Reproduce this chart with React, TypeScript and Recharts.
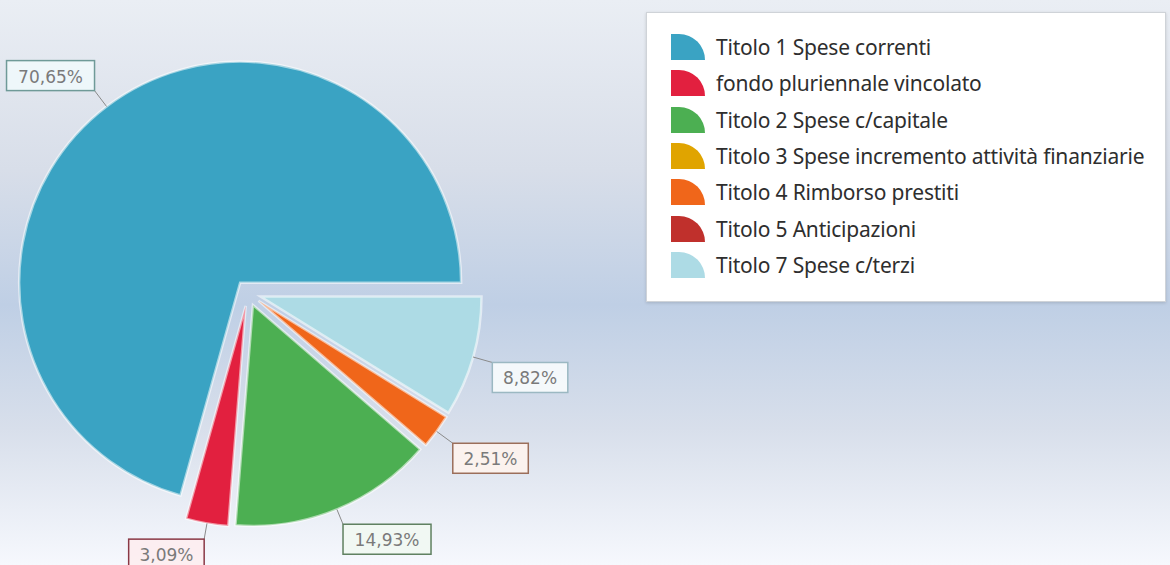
import { PieChart, Pie, Cell } from 'recharts';

const names = [
  'Titolo 1 Spese correnti',
  'fondo pluriennale vincolato',
  'Titolo 2 Spese c/capitale',
  'Titolo 3 Spese incremento attività finanziarie',
  'Titolo 4 Rimborso prestiti',
  'Titolo 5 Anticipazioni',
  'Titolo 7 Spese c/terzi',
];
const values = [70.65, 3.09, 14.93, 0, 2.51, 0, 8.82];
const colors = ['#3aa3c3', '#e2203f', '#4caf52', '#e0a400', '#f0661a', '#c0302c', '#addbe5'];
const labelBorders = ['#6f9a98', '#8a3845', '#5f8060', '#a08030', '#9b6e5a', '#803030', '#9bb8c2'];

const data = names.map((name, i) => ({ name, value: values[i] }));

const RADIAN = Math.PI / 180;
const CX = 248;
const CY = 293;
const R = 221;
const EXPLODE = 13;

// mid angle of each slice, used to push the slices apart
const total = values.reduce((a, b) => a + b, 0);
let acc = 0;
const mids = values.map((v) => {
  const m = ((acc + v / 2) / total) * 360;
  acc += v;
  return m;
});

const renderLabel = (k: number) => (props: any) => {
  if (props.index !== k) return null;
  const { cx, cy, midAngle, outerRadius, value } = props;
  const cos = Math.cos(-midAngle * RADIAN);
  const sin = Math.sin(-midAngle * RADIAN);
  const sx = cx + outerRadius * cos;
  const sy = cy + outerRadius * sin;
  const len = sin > 0.9 ? 16 : 20;
  const ex = cx + (outerRadius + len) * cos;
  const ey = cy + (outerRadius + len) * sin;
  const text = value.toFixed(2).replace('.', ',') + '%';
  const w = text.length * 12.5 + 13;
  const h = 30;
  const bx = cos >= 0 ? ex : ex - w;
  const by = sin >= 0 ? ey : ey - h;
  return (
    <g>
      <line x1={sx} y1={sy} x2={ex} y2={ey} stroke="#8a8a8a" strokeWidth={1} />
      <rect x={bx} y={by} width={w} height={h} fill="#ffffff" fillOpacity={0.9} />
      <rect x={bx} y={by} width={w} height={h} fill={colors[k]} fillOpacity={0.07} stroke={labelBorders[k]} strokeWidth={1.5} />
      <text
        x={bx + w / 2}
        y={by + h / 2 + 1}
        textAnchor="middle"
        dominantBaseline="central"
        fill="#7a7a7a"
        fontSize={17}
        fontFamily="DejaVu Sans"
      >
        {text}
      </text>
    </g>
  );
};

const LegendIcon = ({ color }: { color: string }) => (
  <svg width={36} height={28} style={{ display: 'block', flexShrink: 0 }}>
    <path d="M1,27 L1,1 L9,1 A26 26 0 0 1 35,27 Z" fill={color} />
  </svg>
);

const App = () => {
  return (
    <div
      style={{
        position: 'fixed',
        left: 0,
        top: 0,
        width: 1170,
        height: 565,
        overflow: 'hidden',
        background: 'linear-gradient(to bottom, #eaeef4 0%, #d8dee9 30%, #bfcfe5 54%, #d8dfeb 76%, #f6f8fd 100%)',
      }}
    >
      <PieChart width={1170} height={565} margin={{ top: 0, right: 0, bottom: 0, left: 0 }}>
        {values.map((v, k) =>
          v > 0 ? (
            <Pie
              key={k}
              data={data}
              dataKey="value"
              nameKey="name"
              cx={CX + EXPLODE * Math.cos(mids[k] * RADIAN)}
              cy={CY - EXPLODE * Math.sin(mids[k] * RADIAN)}
              outerRadius={R}
              startAngle={0}
              endAngle={360}
              isAnimationActive={false}
              labelLine={false}
              label={renderLabel(k)}
            >
              {data.map((_, i) => (
                <Cell
                  key={`cell-${i}`}
                  fill={i === k ? colors[i] : 'none'}
                  stroke={i === k ? '#ffffff' : 'none'}
                  strokeOpacity={0.55}
                  strokeWidth={2.5}
                />
              ))}
            </Pie>
          ) : null
        )}
      </PieChart>
      <div
        style={{
          position: 'absolute',
          left: 646,
          top: 12,
          width: 520,
          height: 290,
          boxSizing: 'border-box',
          background: '#ffffff',
          border: '1px solid #cfd3d8',
          boxShadow: '0 1px 3px rgba(0,0,0,0.15)',
          paddingTop: 16,
          paddingLeft: 23,
          fontFamily: 'Noto Sans',
          fontSize: 21,
          color: '#2e2e2e',
        }}
      >
        {names.map((name, i) => (
          <div key={name} style={{ display: 'flex', alignItems: 'center', height: 36.3 }}>
            <LegendIcon color={colors[i]} />
            <span style={{ marginLeft: 10, letterSpacing: -0.2, whiteSpace: 'nowrap' }}>{name}</span>
          </div>
        ))}
      </div>
    </div>
  );
};

export default App;
